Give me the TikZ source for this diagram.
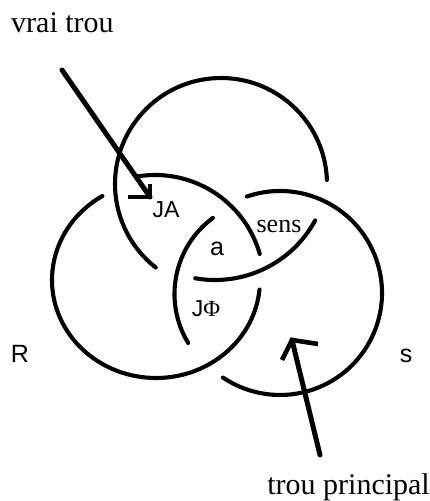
\documentclass[tikz,border=0pt]{standalone}
\usepackage{fontspec}
\usetikzlibrary{calc}
\setmainfont{Liberation Serif}
\newfontfamily\sansf{Liberation Sans}
\begin{document}
\begin{tikzpicture}[x=1pt,y=1pt,
  ring/.style={line width=4.1pt, line cap=round},
  pointer/.style={line width=5pt, line cap=round},
  barb/.style={line width=4.6pt, line cap=butt, line join=miter},
  bigtxt/.style={font=\fontsize{30}{36}\selectfont, inner sep=0pt},
  sanslbl/.style={font=\sansf\fontsize{23}{27}\selectfont, inner sep=0pt},
  sidelbl/.style={font=\sansf\fontsize{25}{30}\selectfont, inner sep=0pt},
  seriflbl/.style={font=\fontsize{26}{31}\selectfont, inner sep=0pt}]
\useasboundingbox (0,0) rectangle (430,501);

% centres of the arcs
\coordinate (cT1) at (221,317);
\coordinate (cT2) at (215,335);
\coordinate (cL1) at (155,217);
\coordinate (cL2) at (156,221);
\coordinate (cS1) at (280,208);
\coordinate (cS2) at (269,207);

% top ring
\draw[ring] (cT1) ++(2.2:106pt) arc[start angle=2.2, end angle=232, radius=106pt];
\draw[ring] (cT2) ++(260:114pt) arc[start angle=260, end angle=331.5, radius=114pt];
% left ring (R)
\draw[ring] (cL1) ++(99:109pt) arc[start angle=99, end angle=16, radius=109pt];
\draw[ring] (cL2) ++({104*cos(-5.6)},{98*sin(-5.6)}) arc[start angle=-5.6, end angle=-239, x radius=104pt, y radius=98pt];
% right ring (s)
\draw[ring] (cS1) ++(109:102pt) arc[start angle=109, end angle=-124, radius=102pt];
\draw[ring] (cS2) ++(126.4:94.5pt) arc[start angle=126.4, end angle=211.2, radius=94.5pt];

% labels
\node[bigtxt, anchor=base west] (vrai) at (11,468) {vrai trou};
\node[bigtxt, anchor=base east] (principal) at (430,6) {trou principal};
\node[sanslbl, anchor=base] (JA) at (166,283) {JA};
\node[sidelbl, anchor=base] (a) at (217,245) {a};
\node[seriflbl, anchor=base] (sens) at (279,268) {sens};
\node[sanslbl, anchor=base] (JPhi) at (206,184) {J{\rmfamily Φ}};
\node[sidelbl, anchor=base] (R) at (20,138) {R};
\node[sidelbl, anchor=base] (S) at (406,138) {s};

% arrow to "vrai trou"
\coordinate (aStart) at (62,431);
\coordinate (aTip) at (150,304);
\draw[pointer] (aStart) -- (aTip);
\draw[barb] ($(aTip)+(-22,0)$) -- (aTip) -- ++(0,13);

% arrow to "trou principal"
\coordinate (bStart) at (320,46);
\coordinate (bTip) at (292,161);
\draw[pointer] (bStart) -- (bTip);
\draw[barb] (318,157) -- (bTip) -- (282,141);
\end{tikzpicture}
\end{document}
